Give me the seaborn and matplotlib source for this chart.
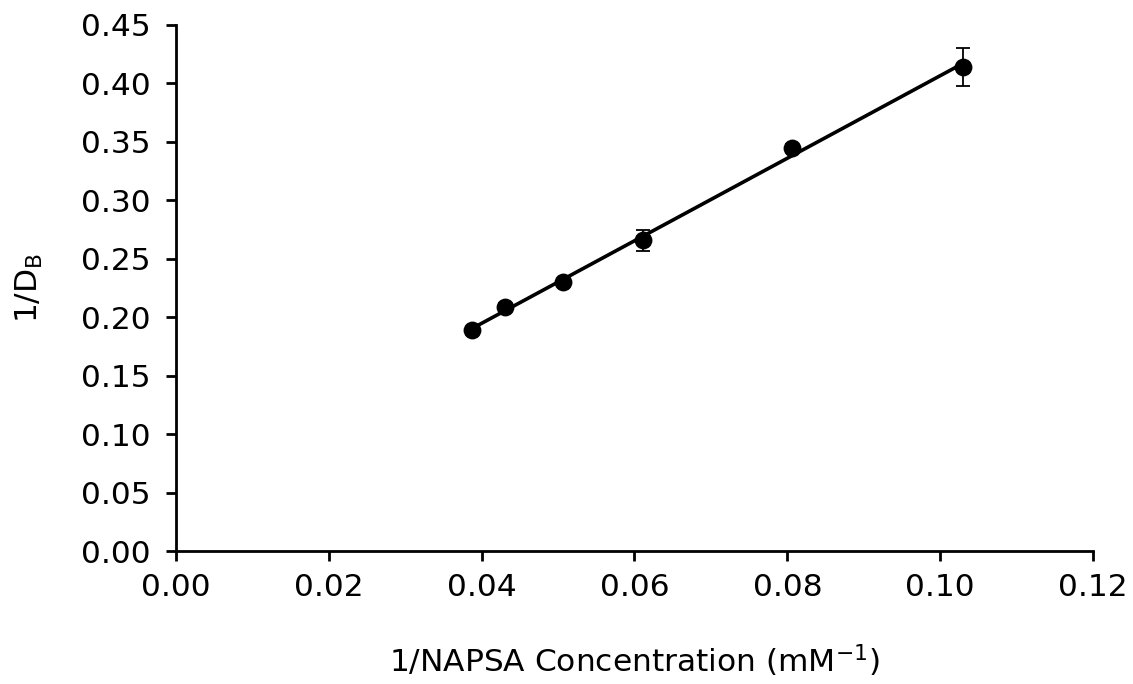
import numpy as np
import pandas as pd
import matplotlib
matplotlib.use("Agg")
import matplotlib.pyplot as plt
import seaborn as sns

# Values
inv_conc = [0.0388, 0.0431, 0.0506, 0.0611, 0.0806, 0.1030]
inv_db = [0.189, 0.209, 0.230, 0.266, 0.345, 0.414]
err = [0.002, 0.003, 0.003, 0.009, 0.003, 0.016]

df = pd.DataFrame({'x': inv_conc, 'y': inv_db, 'err': err})

sns.set_style('ticks')
plt.rcParams['font.family'] = ['DejaVu Sans']

fig = plt.figure(figsize=(11.33, 6.84), dpi=100)
ax = fig.add_axes([0.1553, 0.1944, 0.8094, 0.7691])

# linear fit line through the data range
sns.regplot(data=df, x='x', y='y', ci=None, scatter=False, ax=ax,
            line_kws={'color': 'black', 'lw': 2.6})
ax.errorbar(df['x'], df['y'], yerr=df['err'], fmt='none', ecolor='black',
            elinewidth=1.3, capsize=5, capthick=1.3, zorder=3)
sns.scatterplot(data=df, x='x', y='y', ax=ax, color='black', s=165,
                edgecolor='black', linewidth=0, zorder=4)

ax.set_xlim(0, 0.12)
ax.set_ylim(0, 0.45)
ax.set_xticks(np.arange(0, 0.121, 0.02))
ax.set_yticks(np.arange(0, 0.451, 0.05))
ax.xaxis.set_major_formatter(matplotlib.ticker.FormatStrFormatter('%.2f'))
ax.yaxis.set_major_formatter(matplotlib.ticker.FormatStrFormatter('%.2f'))

for s in ['top', 'right']:
    ax.spines[s].set_visible(False)
for s in ['left', 'bottom']:
    ax.spines[s].set_linewidth(2)
    ax.spines[s].set_color('black')
ax.tick_params(direction='out', length=7, width=2, labelsize=22.5, colors='black')
ax.tick_params(axis='x', pad=9)
ax.tick_params(axis='y', pad=11)

ax.set_xlabel('1/NAPSA Concentration (mM$\\mathregular{^{-1}}$)', fontsize=22.5,
              color='black', labelpad=29)
ax.set_ylabel('1/D$_\\mathregular{B}$', fontsize=22.5, color='black', labelpad=26)

fig.savefig('out.png', dpi=100)
